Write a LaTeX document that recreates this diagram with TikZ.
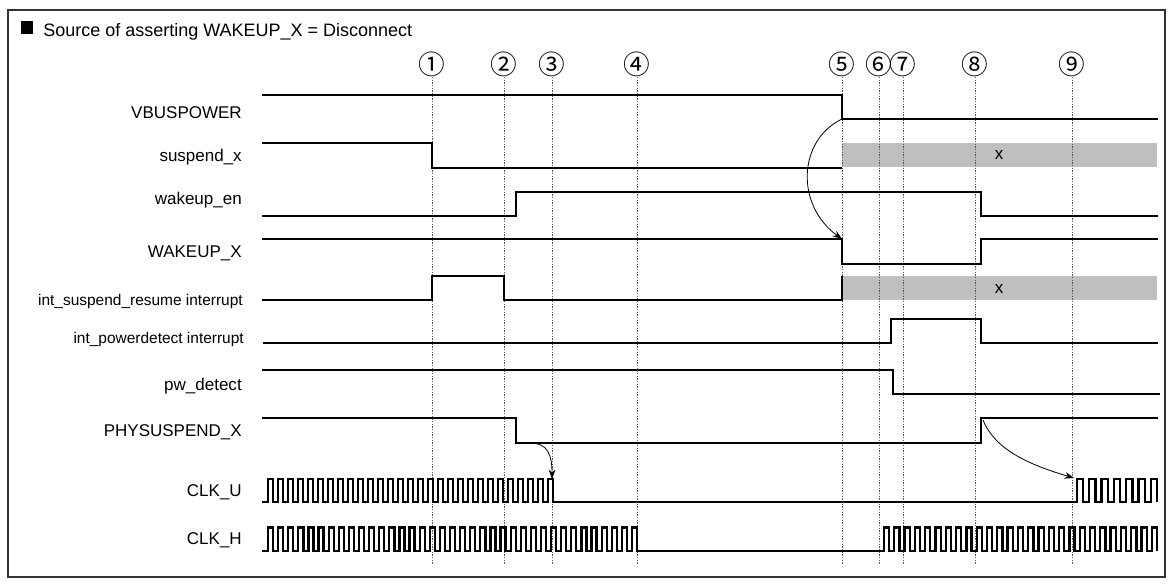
\documentclass[tikz,border=0pt]{standalone}
\usepackage{fontspec}
\setmainfont{Liberation Sans}
\newfontfamily\circfont{Noto Sans CJK JP}
\usetikzlibrary{arrows.meta}
\begin{document}
\begin{tikzpicture}[x=0.75pt,y=-0.75pt,
  sig/.style={line width=1.7pt, line join=miter},
  gridline/.style={black!65, line width=0.6pt, dash pattern=on 1pt off 1pt},
  lbl/.style={anchor=base east, inner sep=0pt, font=\fontsize{12.75pt}{14pt}\selectfont},
  slbl/.style={anchor=base east, inner sep=0pt, font=\fontsize{11.6pt}{13pt}\selectfont},
  num/.style={inner sep=0pt, font=\circfont\fontsize{20pt}{22pt}\selectfont},
  band/.style={fill=black!25, draw=none},
  xlbl/.style={inner sep=0pt, font=\fontsize{12.75pt}{14pt}\selectfont},
  cause/.style={line width=0.6pt, -{Stealth[length=7pt,width=5pt]}},
  frame/.style={draw=black!80, line width=1.1pt}]
\useasboundingbox (0,0) rectangle (1173,586);
\draw[frame] (8,10) rectangle (1165,577);
\fill (21,21) rectangle (33,34);
\node[anchor=base west, inner sep=0pt, font=\fontsize{13.5pt}{16pt}\selectfont] (title) at (43,36) {Source of asserting WAKEUP\_X = Disconnect};

% gray bands
\fill[band] (842,143) rectangle (1157,167);
\fill[band] (842,276) rectangle (1157,300);
\node[xlbl] (x1) at (999,155) {x};
\node[xlbl] (x2) at (999,289) {x};

% event lines and numbers
\foreach \n/\x/\g in {1/432/①,2/504/②,3/552/③,4/637/④,5/842/⑤,6/879/⑥,7/903/⑦,8/975/⑧,9/1072/⑨}{
  \node[num] (n\n) at (\x,64) {\g};
  \coordinate (b\n) at (\x,565);
  \draw[gridline] (\x,77) -- (b\n);
}

% labels
\node[lbl] (l1) at (242,118) {VBUSPOWER};
\node[lbl] (l2) at (242,161) {suspend\_x};
\node[lbl] (l3) at (242,204) {wakeup\_en};
\node[lbl] (l4) at (242,257.5) {WAKEUP\_X};
\node[slbl] (l5) at (243,305) {int\_suspend\_resume interrupt};
\node[slbl] (l6) at (244,343) {int\_powerdetect interrupt};
\node[lbl] (l7) at (242,390) {pw\_detect};
\node[lbl] (l8) at (242,436) {PHYSUSPEND\_X};
\node[lbl] (l9) at (242,496) {CLK\_U};
\node[lbl] (l10) at (242,544) {CLK\_H};

% waveforms
\draw[sig] (262,95) -- (842,95) -- (842,119) coordinate (vbf) -- (1158,119);
\draw[sig] (262,143) -- (432,143) -- (432,168) -- (842,168);
\draw[sig] (262,216) -- (516,216) -- (516,192) -- (981,192) -- (981,216) -- (1158,216);
\draw[sig] (262,239) -- (842,239) coordinate (wxf) -- (842,264) -- (981,264) -- (981,239) -- (1158,239);
\draw[sig] (262,300) -- (432,300) -- (432,276) -- (504,276) -- (504,300) -- (842,300) -- (842,276);
\draw[sig] (263,343) -- (891,343) -- (891,319) -- (981,319) -- (981,343) -- (1158,343);
\draw[sig] (262,370) -- (893,370) -- (893,394) -- (1160,394);
\draw[sig] (262,418) -- (516,418) -- (516,443) coordinate (psf) -- (981,443) -- (981,418) coordinate (psr) -- (1158,418);

% CLK_U
\draw[sig] (262,502) -- (268,502)
  \foreach \k in {0,...,28} { -- ++(0,-23) -- ++(5,0) -- ++(0,23) -- ++(5,0) }
  -- (1077,502) coordinate (cur)
  \foreach \k in {1,...,6} { -- ++(0,-23) -- ++(6.15,0) -- ++(0,23) -- ++(6.15,0) }
  -- ++(0,-23) -- ++(6.15,0) -- ++(0,23);
\coordinate (cuf) at (552,479);
\coordinate (cus) at (1074,478);
% CLK_H
\draw[sig] (262,551) -- (268,551)
  \foreach \k in {0,...,35} { -- ++(0,-23.5) -- ++(5.055,0) -- ++(0,23.5) -- ++(5.055,0) }
  -- ++(0,-23.5) -- ++(5.055,0) -- ++(0,23.5)
  -- (884,551)
  \foreach \k in {1,...,26} { -- ++(0,-23.5) -- ++(5.15,0) -- ++(0,23.5) -- ++(5.15,0) }
  -- ++(0,-23.5) -- ++(5.15,0) -- ++(0,23.5);

% cause arrows
\draw[cause] (vbf) .. controls (798,140) and (795,205) .. (wxf);
\draw[cause] (psf) ++(14,0) .. controls (548,443) and (552,455) .. (cuf);
\draw[cause] (psr) ++(2,2) .. controls (995,450) and (1030,465) .. (cus);
\end{tikzpicture}
\end{document}
